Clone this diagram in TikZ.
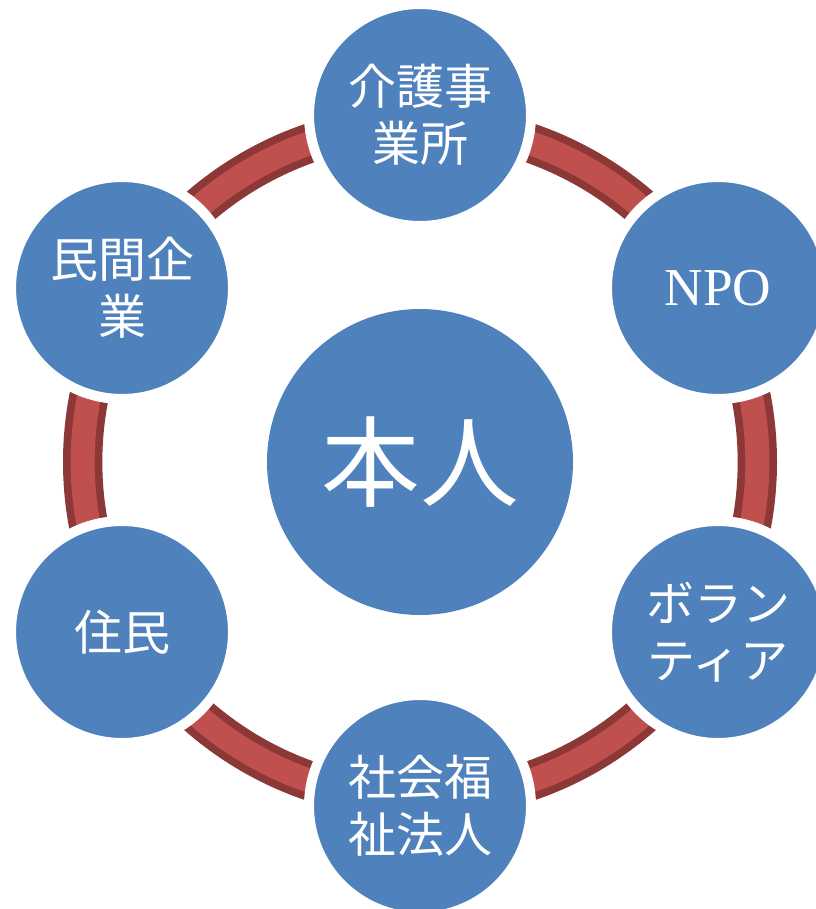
\documentclass[tikz,border=0pt]{standalone}
\usepackage{fontspec}
\setmainfont{Liberation Serif}
\newfontfamily\cjk{Noto Sans CJK JP}
\definecolor{hubblue}{HTML}{4F81BD}
\definecolor{ringred}{HTML}{C0504D}
\definecolor{ringdark}{HTML}{8C3836}
\begin{document}
\begin{tikzpicture}[x=0.75pt,y=-0.75pt,
  outer/.style={circle,fill=hubblue,draw=white,line width=7.5pt,minimum size=166.5pt,inner sep=0pt,outer sep=0pt,text=white,align=center,font=\cjk\fontsize{36pt}{43pt}\selectfont},
  hub/.style={circle,fill=hubblue,minimum size=229.5pt,inner sep=0pt,text=white,font=\cjk\fontsize{74pt}{84pt}\selectfont}]
\path[use as bounding box] (0,0) rectangle (816,909);
\coordinate (c) at (420,462);
\draw[ringdark,line width=29.5pt] (c) circle [radius=253pt];
\draw[ringred,line width=18pt] (c) circle [radius=253pt];
\node[hub] (self) at (c) {本人};
\node[outer] (kaigo) at (420,115) {介護事\\業所};
\node[outer] (npo) at (718,288) {\rmfamily\fontsize{40pt}{44pt}\selectfont NPO};
\node[outer] (vol) at (718,632) {ボラン\\ティア};
\node[outer] (shakai) at (420,806) {社会福\\祉法人};
\node[outer] (jumin) at (122,632) {住民};
\node[outer] (kigyo) at (122,288) {民間企\\業};
\end{tikzpicture}
\end{document}
